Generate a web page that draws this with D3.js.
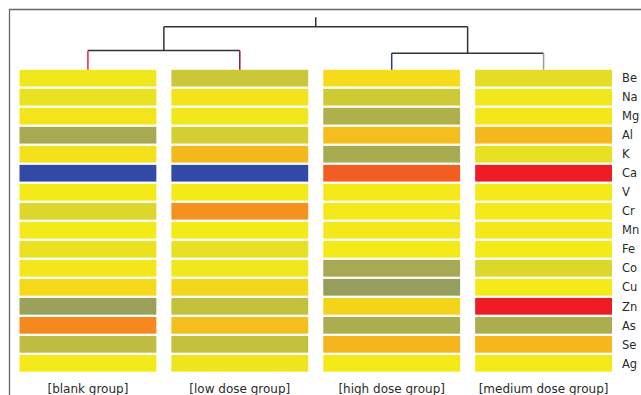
<!DOCTYPE html>
<html>
<head>
<meta charset="utf-8">
<script src="https://cdn.jsdelivr.net/npm/d3@7"></script>
<style>
  html, body { margin: 0; padding: 0; background: #fff; }
  svg { display: block; }
  text { font-family: "DejaVu Sans", Verdana, sans-serif; fill: #2a2a2a; }
</style>
</head>
<body>
<svg id="chart" width="641" height="395"></svg>
<script>
// Groups in clustered (dendrogram) order
const groups = ["blank group", "low dose group", "high dose group", "medium dose group"];
// Elements (rows)
const elements = ["Be", "Na", "Mg", "Al", "K", "Ca", "V", "Cr", "Mn", "Fe", "Co", "Cu", "Zn", "As", "Se", "Ag"];

// Relative (standardised) levels per group, one value per element
const blankValues  = [-0.02, -0.05, 0.03, -0.40, 0.05, -1.00, 0.00, -0.12, 0.00, -0.05, 0.02, 0.09, -0.46, 0.50, -0.28, 0.00];
const lowValues    = [-0.22, 0.04, -0.02, -0.17, 0.26, -1.00, 0.00, 0.46, 0.00, -0.06, -0.02, 0.10, -0.25, 0.22, -0.25, -0.03];
const highValues   = [0.07, -0.20, -0.36, 0.22, -0.39, 0.70, 0.00, 0.00, 0.01, 0.00, -0.40, -0.48, 0.12, -0.38, 0.27, 0.00];
const mediumValues = [-0.08, -0.02, 0.02, 0.26, -0.06, 1.00, 0.00, 0.00, 0.01, 0.00, -0.12, 0.00, 1.00, -0.38, 0.26, 0.00];
const seriesValues = [blankValues, lowValues, highValues, mediumValues];

// Cluster tree over the groups (linkage heights)
const clusterTree = {
  height: 3.7,
  children: [
    { height: 1.65, children: [ { name: "blank group", color: "#e8283c" }, { name: "low dose group", color: "#8a1c34" } ] },
    { height: 1.43, children: [ { name: "high dose group", color: "#2e34a6" }, { name: "medium dose group", color: "#9a9a9a" } ] }
  ]
};

const svg = d3.select("#chart");

const x = d3.scaleBand().domain(groups).range([19.5, 612]).paddingInner(0.099);
const y = d3.scaleBand().domain(elements).range([69.8, 371.7]).paddingInner(0.12);
const h = d3.scaleLinear().domain([0, 3.7]).range([69.8, 26.7]);

const color = d3.scaleLinear()
  .domain([-1, 0, 0.5, 1])
  .range(["#3349a6", "#f4ea1a", "#f5891f", "#ee1c25"])
  .interpolate(d3.interpolateRgb)
  .clamp(true);

// outer frame
svg.append("path")
  .attr("d", "M9.5,395 V9.5 H641")
  .attr("fill", "none").attr("stroke", "#666").attr("stroke-width", 1.3);

// heat cells
const cells = [];
groups.forEach((g, gi) => elements.forEach((e, ei) => cells.push({ g, e, v: seriesValues[gi][ei] })));
svg.append("g").selectAll("rect").data(cells).join("rect")
  .attr("x", d => x(d.g))
  .attr("y", d => y(d.e))
  .attr("width", x.bandwidth())
  .attr("height", y.bandwidth())
  .attr("fill", d => color(d.v));

// dendrogram
const root = d3.hierarchy(clusterTree);
root.eachAfter(n => {
  if (!n.children) { n.px = x(n.data.name) + x.bandwidth() / 2; n.py = h(0); }
  else { n.px = d3.mean(n.children, c => c.px); n.py = h(n.data.height); }
});
const dend = svg.append("g").attr("fill", "none").attr("stroke-width", 1.5);
root.descendants().forEach(n => {
  if (n.children) {
    const xs = n.children.map(c => c.px);
    dend.append("path").attr("stroke", "#333")
      .attr("d", `M${d3.min(xs)},${n.py} H${d3.max(xs)}`);
  }
  const top = n.parent ? n.parent.py : n.py - 9.5;
  dend.append("path")
    .attr("stroke", n.data.color || "#333")
    .attr("d", `M${n.px},${top} V${n.py}`);
});

// element labels
svg.append("g").selectAll("text").data(elements).join("text")
  .attr("x", 622)
  .attr("y", d => y(d) + y.bandwidth() / 2 + 4.2)
  .attr("font-size", 11.5)
  .text(d => d);

// group labels
svg.append("g").selectAll("text").data(groups).join("text")
  .attr("x", d => x(d) + x.bandwidth() / 2)
  .attr("y", 393)
  .attr("text-anchor", "middle")
  .attr("font-size", 12)
  .text(d => `[${d}]`);
</script>
</body>
</html>
